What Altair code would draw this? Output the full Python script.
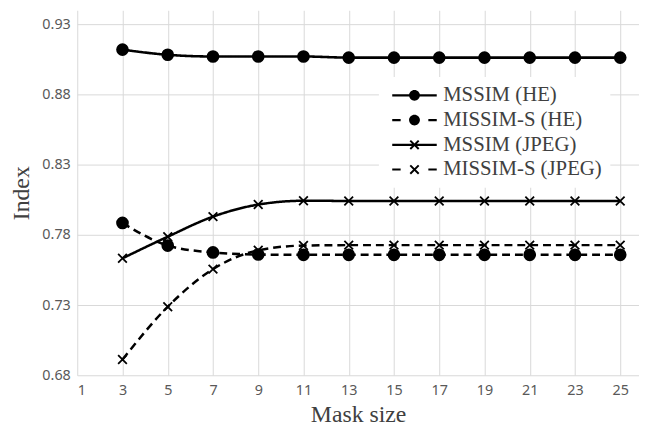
import altair as alt
import pandas as pd

mask_sizes = [3, 5, 7, 9, 11, 13, 15, 17, 19, 21, 23, 25]
mssim_he = [0.912, 0.9083, 0.9071, 0.9071, 0.9071, 0.9063, 0.9063, 0.9063, 0.9063, 0.9063, 0.9063, 0.9063]
missim_s_he = [0.7885, 0.7724, 0.7675, 0.766, 0.7658, 0.7658, 0.7658, 0.7658, 0.7658, 0.7658, 0.7658, 0.7658]
mssim_jpeg = [0.7633, 0.7787, 0.793, 0.8016, 0.8043, 0.8042, 0.8042, 0.8042, 0.8042, 0.8042, 0.8042, 0.8042]
missim_s_jpeg = [0.6912, 0.7288, 0.7556, 0.769, 0.7724, 0.7727, 0.7727, 0.7727, 0.7727, 0.7727, 0.7727, 0.7727]

series_names = ["MSSIM (HE)", "MISSIM-S (HE)", "MSSIM (JPEG)", "MISSIM-S (JPEG)"]
series_values = [mssim_he, missim_s_he, mssim_jpeg, missim_s_jpeg]
x_ticks = [1, 3, 5, 7, 9, 11, 13, 15, 17, 19, 21, 23, 25]
y_ticks = [0.68, 0.73, 0.78, 0.83, 0.88, 0.93]

rows = []
for name, vals in zip(series_names, series_values):
    for m, v in zip(mask_sizes, vals):
        rows.append({"x": m, "y": v, "series": name})
df = pd.DataFrame(rows)

X_PATH = "M-0.8,-0.8L0.8,0.8M-0.8,0.8L0.8,-0.8"

# legend glyphs drawn as filled shapes (units: 5px), line from -1 to 8, marker at 3.5
SOLID = "M-1,-0.22H8V0.22H-1Z"
DASHED = "M-1,-0.22H0.7V0.22H-1ZM6.3,-0.22H8V0.22H6.3Z"
CIRC = "M4.6,0A1.1,1.1 0 1,1 2.4,0A1.1,1.1 0 1,1 4.6,0Z"
XGLYPH = ("M2.79,-0.99L4.49,0.71L4.21,0.99L2.51,-0.71Z"
          "M2.79,0.99L2.51,0.71L4.21,-0.99L4.49,-0.71Z")
leg_paths = [SOLID + CIRC, DASHED + CIRC, SOLID + XGLYPH, DASHED + XGLYPH]

xenc = alt.X("x:Q", scale=alt.Scale(domain=[1, 25.83], nice=False, zero=False),
             axis=alt.Axis(values=x_ticks, title="Mask size", grid=True, domain=False, ticks=False,
                           labelPadding=8, titlePadding=6, format="d"))
yenc = alt.Y("y:Q", scale=alt.Scale(domain=[0.68, 0.94], nice=False, zero=False),
             axis=alt.Axis(values=y_ticks, title="Index", grid=True, domain=False, ticks=False,
                           labelPadding=7, titlePadding=9, format=".2f"))

base = alt.Chart(df)

lines = base.mark_line(color="black", interpolate="monotone").encode(
    x=xenc, y=yenc,
    strokeDash=alt.StrokeDash("series:N", scale=alt.Scale(domain=series_names,
                              range=[[1, 0], [8, 5], [1, 0], [8, 5]]), legend=None),
    strokeWidth=alt.StrokeWidth("series:N", scale=alt.Scale(domain=series_names,
                                range=[2.6, 2.5, 2, 2.5]), legend=None),
)

points = base.mark_point(filled=True, color="black", stroke="black", strokeWidth=1.8,
                         size=121, opacity=1).encode(
    x=xenc, y=yenc,
    shape=alt.Shape("series:N", scale=alt.Scale(domain=series_names,
                    range=["circle", "circle", X_PATH, X_PATH]), legend=None),
)

legend_layer = base.mark_point(filled=True, color="black", opacity=1).encode(
    x=xenc, y=yenc,
    shape=alt.Shape("series:N", scale=alt.Scale(domain=series_names, range=leg_paths),
                    legend=alt.Legend(orient="none", legendX=305, legendY=67.5, title=None,
                                      symbolSize=100, symbolOpacity=1,
                                      labelFont="Liberation Serif", labelFontSize=21,
                                      labelColor="#404040", labelOffset=36, labelLimit=0,
                                      rowPadding=3, padding=8, fillColor="white")),
).transform_filter("datum.x < 0")

chart = alt.layer(lines, points, legend_layer).resolve_scale(shape="independent").properties(
    width=568, height=369,
    autosize=alt.AutoSizeParams(type="none"),
    padding={"left": 70, "top": 0, "right": 0, "bottom": 50},
).configure_view(strokeWidth=0).configure_axis(
    gridColor="#d9d9d9", gridWidth=1,
    labelFont="Noto Sans", labelFontSize=14.5, labelColor="#595959",
    titleFont="Liberation Serif", titleFontSize=24, titleColor="#404040", titleFontWeight="normal",
).configure_legend(
    labelFont="Liberation Serif", labelFontSize=21, labelColor="#404040",
)

chart.save("out.html", embed_options={"renderer": "svg", "actions": False})
